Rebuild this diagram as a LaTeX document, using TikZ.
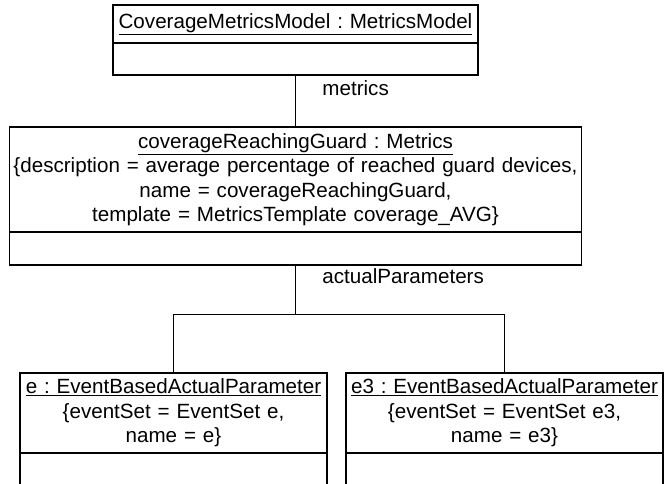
\documentclass[tikz,border=0pt]{standalone}
\usepackage{fontspec}
\setmainfont{Liberation Sans}
\usetikzlibrary{positioning}
\tikzstyle{objbox}=[rectangle, draw=black, line width=1.6pt, inner sep=0pt, outer sep=0pt,
                    align=center, font=\fontsize{20.6pt}{24.5pt}\selectfont\frenchspacing]
\tikzstyle{attbox}=[rectangle, draw=black, line width=1.6pt, inner sep=0pt, outer sep=0pt]
\tikzstyle{pline}=[-, line width=0.9pt]
\tikzstyle{rolelbl}=[anchor=west, inner sep=0pt, xshift=26.5pt,
                     font=\fontsize{20.6pt}{24.5pt}\selectfont]
\begin{document}
\begin{tikzpicture}[node distance=0pt]
\useasboundingbox (-295.5pt,24pt) rectangle (368.5pt,-460pt);
\clip (-295.5pt,24pt) rectangle (368.5pt,-460pt);

\node (CMM) [objbox, text width=365pt, minimum height=38pt] {\underline{CoverageMetricsModel : MetricsModel}};
\node (CMMATT) [attbox, minimum width=365pt, minimum height=32pt, below=0pt of CMM] {};

\node (CRG) [objbox, text width=572pt, minimum height=105pt, below=52pt of CMMATT] {\underline{coverageReachingGuard : Metrics}\\
\{description = average percentage of reached guard devices,\\
name = coverageReachingGuard,\\
template = MetricsTemplate coverage\_AVG\}};
\node (CRGATT) [attbox, minimum width=572pt, minimum height=33pt, below=0pt of CRG] {};
 \draw[pline] (CMMATT.south) -- node[rolelbl, pos=0.25] {metrics} (CRG.north);

\node (EPAR) [objbox, text width=307pt, minimum height=80pt, below=108pt of CRGATT, xshift=-122pt] {\underline{e : EventBasedActualParameter}\\
\{eventSet = EventSet e,\\
name = e\}};
\node (EPARATT) [attbox, minimum width=307pt, minimum height=40pt, below=0pt of EPAR] {};
\node (E3PAR) [objbox, text width=317pt, minimum height=80pt, right=19pt of EPAR] {\underline{e3 : EventBasedActualParameter}\\
\{eventSet = EventSet e3,\\
name = e3\}};
\node (E3PARATT) [attbox, minimum width=317pt, minimum height=40pt, below=0pt of E3PAR] {};
 \draw[pline] (CRGATT.south) -- ++(0,-49pt) node[rolelbl, pos=0.22] {actualParameters} -| (EPAR.north);
 \draw[pline] (CRGATT.south) -- ++(0,-49pt) -| (E3PAR.north);

\end{tikzpicture}
\end{document}
